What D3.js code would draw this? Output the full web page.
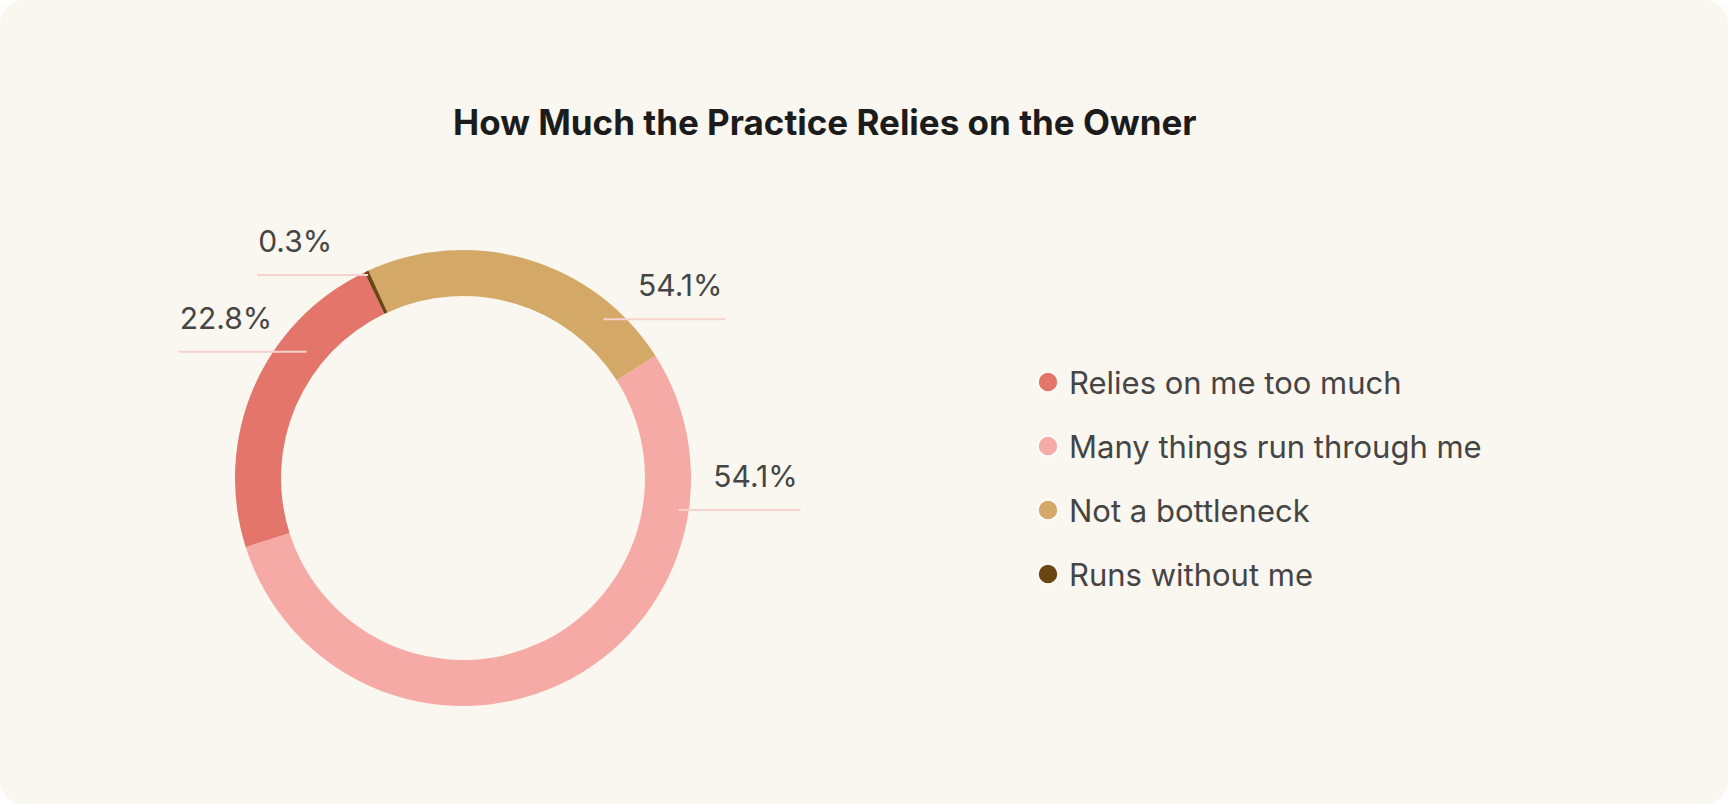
<!DOCTYPE html>
<html>
<head>
<meta charset="utf-8">
<script src="https://cdn.jsdelivr.net/npm/d3@7"></script>
<style>
  html, body { margin: 0; padding: 0; background: #ffffff; }
  svg { display: block; font-family: Inter, "Noto Sans", sans-serif; }
</style>
</head>
<body>
<svg id="chart" width="1728" height="804"></svg>
<script>
// chart data
const categories = ["Relies on me too much", "Many things run through me", "Not a bottleneck", "Runs without me"];
const shares = [22.8, 54.1, 22.8, 0.3];
const shownLabels = ["22.8%", "54.1%", "54.1%", "0.3%"];
const sliceColors = ["#e4756a", "#f5aaa5", "#d4a867", "#6b4512"];
const chartTitle = "How Much the Practice Relies on the Owner";

let svg = d3.select("#chart"),
    width = +svg.attr("width"),
    height = +svg.attr("height");

// card
svg.append("rect")
    .attr("width", width)
    .attr("height", height)
    .attr("rx", 24)
    .attr("fill", "#faf7f0");

svg.append("text")
    .attr("x", 453)
    .attr("y", 135)
    .attr("font-size", 35)
    .attr("font-weight", 700)
    .attr("fill", "#1c1c1c")
    .text(chartTitle);

let cx = 463, cy = 478;
let deg = Math.PI / 180;
let start = -25.6 * deg;

let pie = d3.pie()
    .sort(null)
    .startAngle(start)
    .endAngle(start - 2 * Math.PI);

let arc = d3.arc()
    .innerRadius(182)
    .outerRadius(228);

let slices = pie(shares);

let donut = svg.append("g").attr("transform", "translate(" + cx + "," + cy + ")");

donut.selectAll("path")
    .data(slices)
    .enter().append("path")
    .attr("d", arc)
    .attr("fill", function(d, i) { return sliceColors[i]; });

// where each label line touches its slice: fraction along slice, radius, line length
let labelSpots = [
    {f: 0.31, r: 201, len: 128},
    {f: 0.79, r: 218, len: 122},
    {f: 0.196, r: 212, len: 122},
    {f: 0.5, r: 224, len: 111}
];

let labels = donut.selectAll(".lbl")
    .data(slices)
    .enter().append("g")
    .attr("class", "lbl");

labels.each(function(d, i) {
    let spot = labelSpots[i];
    let a = d.startAngle + spot.f * (d.endAngle - d.startAngle);
    let x = spot.r * Math.sin(a),
        y = -spot.r * Math.cos(a);
    let left = Math.sin(a) < 0;
    let x2 = left ? x - spot.len : x + spot.len;
    let g = d3.select(this);
    g.append("line")
        .attr("x1", x).attr("y1", y)
        .attr("x2", x2).attr("y2", y)
        .attr("stroke", "#f7d2ce")
        .attr("stroke-width", 2);
    g.append("text")
        .attr("x", left ? x2 + 1 : x2 - 3)
        .attr("y", y - 23)
        .attr("text-anchor", left ? "start" : "end")
        .attr("font-size", 30)
        .attr("fill", "#454545")
        .text(shownLabels[i]);
});

// legend
let legend = svg.append("g").attr("transform", "translate(1048,382)");

let item = legend.selectAll("g")
    .data(categories)
    .enter().append("g")
    .attr("transform", function(d, i) { return "translate(0," + (i * 64) + ")"; });

item.append("circle")
    .attr("r", 10)
    .attr("fill", function(d, i) { return sliceColors[i]; })
    .attr("stroke", "#ffffff")
    .attr("stroke-width", 1.5);

item.append("text")
    .attr("x", 21)
    .attr("y", 12)
    .attr("font-size", 31)
    .attr("fill", "#454545")
    .text(function(d) { return d; });
</script>
</body>
</html>
